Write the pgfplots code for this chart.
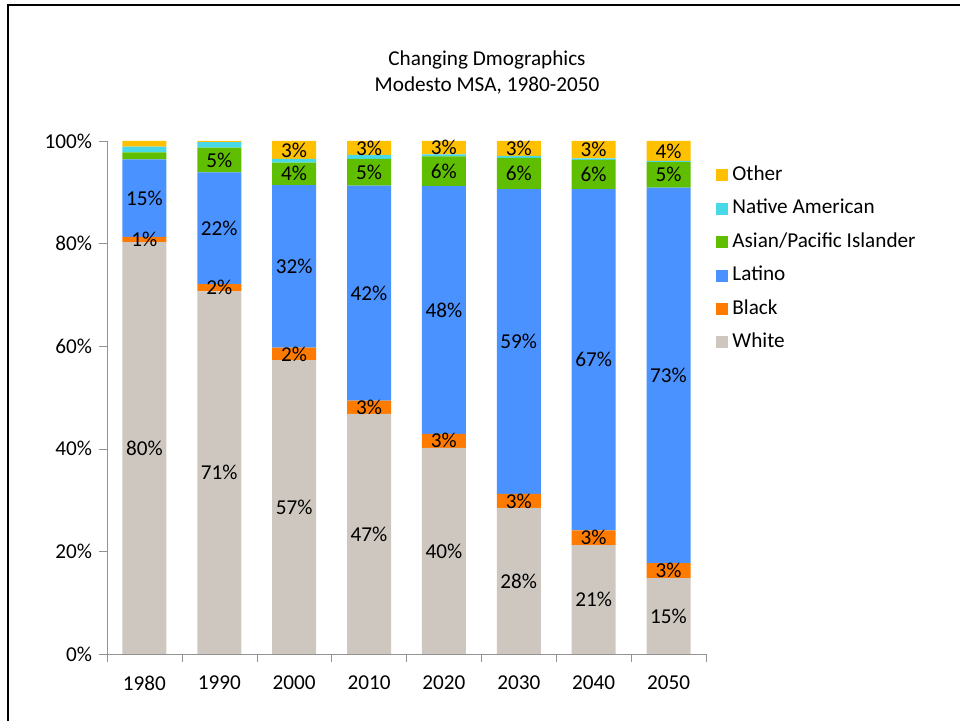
\documentclass[border=0pt]{standalone}
\usepackage{fontspec}
\setmainfont{Carlito}
\usepackage{pgfplots}
\pgfplotsset{compat=1.18}
\usepackage{pgfplotstable}

\definecolor{cWhite}{HTML}{CEC7C0}
\definecolor{cBlack}{HTML}{FF7B00}
\definecolor{cLatino}{HTML}{4A92FF}
\definecolor{cAsian}{HTML}{60BE00}
\definecolor{cNative}{HTML}{48D8E8}
\definecolor{cOther}{HTML}{FFC000}

% one table per group: year index, share in %, label shown on the bar
\pgfplotstableread{
x y lab
0 80.3 80\%
1 70.7 71\%
2 57.3 57\%
3 46.8 47\%
4 40.2 40\%
5 28.5 28\%
6 21.2 21\%
7 14.8 15\%
}\tWhite
\pgfplotstableread{
x y lab
0 1.0 1\%
1 1.4 2\%
2 2.4 2\%
3 2.6 3\%
4 2.7 3\%
5 2.7 3\%
6 2.9 3\%
7 2.9 3\%
}\tBlack
\pgfplotstableread{
x y lab
0 15.1 15\%
1 21.8 22\%
2 31.7 32\%
3 41.9 42\%
4 48.3 48\%
5 59.4 59\%
6 66.5 67\%
7 73.2 73\%
}\tLatino
\pgfplotstableread{
x y lab
0 1.4 {}
1 4.8 5\%
2 4.4 4\%
3 5.2 5\%
4 5.8 6\%
5 6.1 6\%
6 5.7 6\%
7 5.0 5\%
}\tAsian
\pgfplotstableread{
x y lab
0 1.1 {}
1 1.1 {}
2 0.7 {}
3 0.8 {}
4 0.4 {}
5 0.4 {}
6 0.3 {}
7 0.2 {}
}\tNative
\pgfplotstableread{
x y lab
0 1.1 {}
1 0.2 {}
2 3.5 3\%
3 2.7 3\%
4 2.6 3\%
5 2.9 3\%
6 3.4 3\%
7 3.9 4\%
}\tOther

\newcommand\chartfont{\fontsize{10.6}{12.5}\selectfont}

\begin{document}
\begin{tikzpicture}
\useasboundingbox (-53.5pt,-33.5pt) rectangle (426.5pt,327pt);
\draw[line width=1.1pt] (-49.5pt,-40pt) -- (-49.5pt,324.5pt) -- (440pt,324.5pt);

\begin{axis}[
    at={(0pt,0pt)}, anchor=south west,
    scale only axis,
    width=299.5pt, height=256.5pt,
    ybar stacked, bar width=22pt,
    xmin=-0.5, xmax=7.5, ymin=0, ymax=100,
    enlargelimits=false, clip=false,
    axis x line*=bottom, axis y line*=left,
    axis line style={draw=gray!85},
    tick style={draw=gray!85},
    tick align=outside,
    major tick length=4pt, minor tick length=4pt,
    xtick={0,...,7},
    xticklabels={1980,1990,2000,2010,2020,2030,2040,2050},
    minor xtick={-0.5,0.5,...,7.5},
    every major x tick/.style={draw=none},
    ytick={0,20,...,100},
    yticklabel={\pgfmathprintnumber{\tick}\%},
    /pgf/number format/assume math mode=true,
    tick label style={font=\chartfont},
    xticklabel style={yshift=-3.5pt},
    legend style={at={(1.0167,0.959)}, anchor=north west, draw=none, fill=none,
        inner sep=0pt, row sep=3.7pt,
        nodes={font=\chartfont, text height=7pt, text depth=2pt}},
    legend cell align=left,
    reverse legend,
    every axis plot post/.append style={
        legend image code/.code={\fill[##1] (0pt,-3pt) rectangle (6pt,3pt);}},
    nodes near coords={\pgfplotspointmeta},
    point meta=explicit symbolic,
    every node near coord/.append style={anchor=center, font=\chartfont},
]
\addplot[fill=cWhite, draw=none] table[x=x, y=y, meta=lab] {\tWhite};
\addplot[fill=cBlack, draw=none] table[x=x, y=y, meta=lab] {\tBlack};
\addplot[fill=cLatino, draw=none] table[x=x, y=y, meta=lab] {\tLatino};
\addplot[fill=cAsian, draw=none] table[x=x, y=y, meta=lab] {\tAsian};
\addplot[fill=cNative, draw=none] table[x=x, y=y, meta=lab] {\tNative};
\addplot[fill=cOther, draw=none] table[x=x, y=y, meta=lab] {\tOther};
\legend{White,Black,Latino,Asian/Pacific Islander,Native American,Other}
\end{axis}

\node[align=center, font=\fontsize{10.6}{13}\selectfont] at (190pt,290.5pt)
    {Changing Dmographics\\Modesto MSA, 1980-2050};
\end{tikzpicture}
\end{document}
